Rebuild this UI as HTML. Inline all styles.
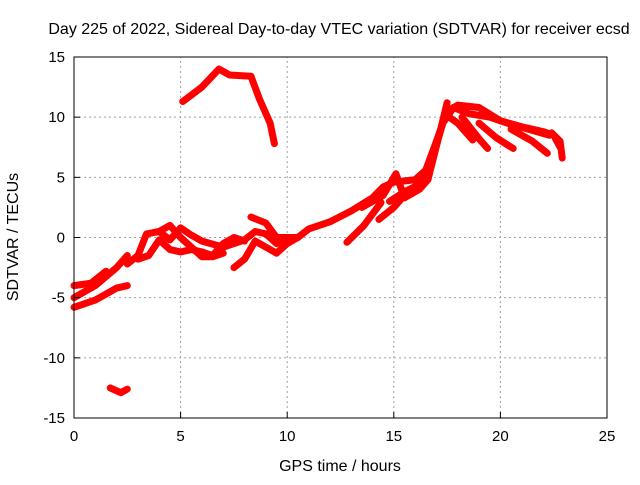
<!DOCTYPE html>
<html><head><meta charset="utf-8"><style>
body{margin:0;background:#fff;font-family:"Liberation Sans",sans-serif}
svg text{font-family:"Liberation Sans",sans-serif;font-size:15px;fill:#000}
svg text.big{font-size:16px}
</style></head><body>
<svg id="chart" width="640" height="480">
<g id="grid"></g>
<g id="series"></g>
<rect x="74" y="57" width="533" height="361" fill="none" stroke="#000" stroke-width="1"/>
<g id="ticks"></g>
<text class="big" x="339" y="34" text-anchor="middle">Day 225 of 2022, Sidereal Day-to-day VTEC variation (SDTVAR) for receiver ecsd</text>
<text class="big" x="340" y="471" text-anchor="middle">GPS time / hours</text>
<text class="big" transform="translate(18,237) rotate(-90)" text-anchor="middle">SDTVAR / TECUs</text>
</svg>
<script>
const xTicks=[0,5,10,15,20,25];
const yTicks=[-15,-10,-5,0,5,10,15];
const track1=[[5.1,11.3],[6,12.5],[6.8,14],[7.3,13.5],[8.3,13.4],[8.7,11.5],[9.2,9.5],[9.4,7.8]];
const track2=[[1.7,-12.5],[2.2,-12.9],[2.5,-12.6]];
const track3=[[0,-5.8],[1,-5.2],[2,-4.2],[2.5,-4]];
const track4=[[0,-5],[1,-4],[2,-2.5],[2.5,-1.5]];
const track5=[[0,-4],[0.8,-3.8],[1.5,-2.8]];
const track6=[[2.5,-2.2],[3,-1.5],[3.4,0.3],[4,0.5],[4.5,-0.2],[5,0.8],[5.5,0.2],[6,-0.3],[7,-0.8],[8,-0.2],[8.5,0.5],[9,0.3],[9.5,-0.5],[10,0]];
const track7=[[3,-1.8],[3.5,-1.5],[4,-0.2],[4.5,-1],[5,-1.2],[5.5,-1.0],[6,-1.2],[6.5,-1.5],[7,-0.5],[7.5,0],[8,-0.3]];
const track8=[[4,0.5],[4.5,1],[5,0],[5.5,-0.8],[6,-1.6],[6.5,-1.6],[7,-1.3]];
const track9=[[7.5,-2.5],[8,-1.8],[8.5,-0.3],[9,-0.8],[9.5,-1.3],[10,-0.5]];
const track10=[[8.3,1.7],[9,1.2],[9.5,0],[10,-0.5],[10.5,0]];
const track11=[[9.5,0],[10.5,0],[11,0.7],[12,1.3],[13,2.2],[14,3.3],[14.5,4.2],[15,4.6],[16,4.8],[16.5,5.6],[17,8],[17.5,10.5],[18,11],[19,10.8],[20,9.7],[21,9.2],[22,8.8],[22.5,8.5],[22.8,7.5]];
const track12=[[12.8,-0.4],[13.6,1],[14.4,2.9]];
const track13=[[14.3,1.5],[15,2.5],[15.3,3.1]];
const track14=[[13.5,2.5],[14.5,3.5],[15.1,5.3],[15.5,3.3],[16.2,4],[16.6,4.8],[17.2,9],[17.5,11.2]];
const track15=[[17.6,10],[18,9.5],[18.7,8.1]];
const track16=[[18.2,10],[19,8.2],[19.4,7.4]];
const track17=[[19,9.5],[19.8,8.3],[20.6,7.4]];
const track18=[[20.5,9],[21.5,8],[22.2,7]];
const track19=[[22.4,8.7],[22.8,8],[22.9,6.6]];
const track20=[[14.8,3],[15.5,3.8],[16.3,4.5],[16.8,6.5],[17.3,9.5],[17.8,10.8],[18.5,10.3],[19.5,10],[20.5,9.4],[21.5,8.9],[22.3,8.5]];
const tracks=[track1,track2,track3,track4,track5,track6,track7,track8,track9,track10,track11,track12,track13,track14,track15,track16,track17,track18,track19,track20];
const X0=74,X1=607,Y0=418,Y1=57;
const xs=v=>X0+(v-0)/25*(X1-X0);
const ys=v=>Y0-(v+15)/30*(Y0-Y1);
const NS="http://www.w3.org/2000/svg";
const grid=document.getElementById('grid'),ticks=document.getElementById('ticks'),ser=document.getElementById('series');
function mk(tag,attrs,parent){const e=document.createElementNS(NS,tag);for(const k in attrs)e.setAttribute(k,attrs[k]);parent.appendChild(e);return e;}
xTicks.forEach(t=>{const x=xs(t);
 if(t>0&&t<25){const g=mk('line',{x1:x,x2:x,y1:Y0,y2:Y1,stroke:'#a0a0a0','stroke-dasharray':'2,3'},grid);}
 const l=mk('line',{x1:x,x2:x,y1:Y0,y2:Y0-6,stroke:'#000'},ticks);
 const tx=mk('text',{x:x,y:Y0+23,'text-anchor':'middle'},ticks);tx.textContent=t;
 
 });
yTicks.forEach(t=>{const y=ys(t);
 if(t>-15&&t<15){const g=mk('line',{x1:X0,x2:X1,y1:y,y2:y,stroke:'#a0a0a0','stroke-dasharray':'2,3'},grid);}
 const l=mk('line',{x1:X0,x2:X0+6,y1:y,y2:y,stroke:'#000'},ticks);
 const tx=mk('text',{x:X0-9,y:y+5,'text-anchor':'end'},ticks);tx.textContent=t;
 
 });
tracks.forEach(tr=>{
 const p=mk('polyline',{points:tr.map(d=>xs(d[0])+','+ys(d[1])).join(' '),fill:'none',stroke:'#ff0000','stroke-width':7,'stroke-linejoin':'round','stroke-linecap':'round'},ser);
 
 
});
</script>
</body></html>
